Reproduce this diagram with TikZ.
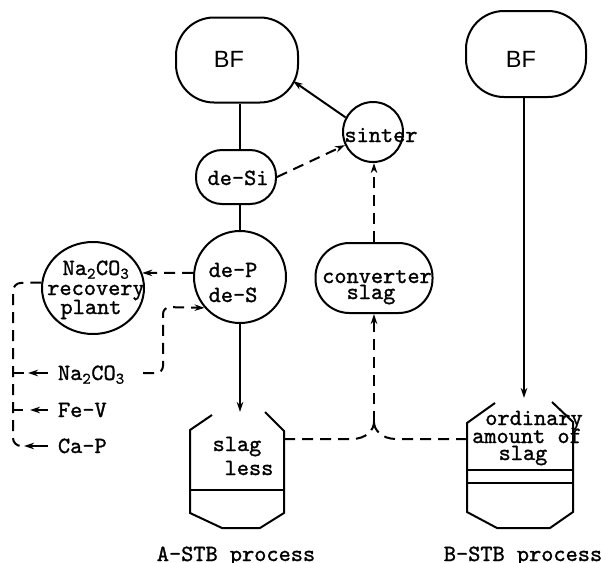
\documentclass[tikz,border=0pt]{standalone}
\usepackage{fontspec}
\setsansfont{Liberation Sans}
\newfontfamily\tw{lmmono10-regular.otf}[FakeBold=1.2]
\usetikzlibrary{arrows.meta,shapes.geometric,calc}
\begin{document}
\begin{tikzpicture}[x=1pt,y=-1pt,line width=2pt,
  txt/.style={font=\fontsize{23.2}{25}\tw,inner sep=0pt,anchor=base},
  bft/.style={font=\fontsize{23.5}{26}\sffamily,inner sep=0pt,anchor=base},
  dd/.style={dash pattern=on 11pt off 7pt},
  arr/.style={-{Stealth[length=10pt,width=6.5pt]}},
  shp/.style={draw,inner sep=0pt}]
\useasboundingbox (0,0) rectangle (606,563);

% ---- shapes
\node[shp,rounded corners=38pt,minimum width=122pt,minimum height=85pt] (BFa) at (237,60) {};
\node[bft] (BFaT) at (229,67) {BF};
\node[shp,rounded corners=38pt,minimum width=120pt,minimum height=86pt] (BFb) at (526,54) {};
\node[bft] (BFbT) at (521,67) {BF};
\node[shp,rounded corners=26pt,minimum width=80pt,minimum height=54pt] (deSi) at (236,177) {};
\node[txt] (deSiT) at (238,185) {de-Si};
\node[shp,circle,minimum size=60pt] (sinter) at (373,132) {};
\node[txt] (sinterT) at (381,142) {sinter};
\node[shp,circle,minimum size=92pt] (deP) at (240,277) {};
\node[txt] (dePT) at (233,277) {de-P};
\node[txt] (deST) at (233,302) {de-S};
\node[shp,ellipse,minimum width=102pt,minimum height=92pt] (plant) at (93,288) {};
\node[txt] (plT1) at (96,275) {Na\textsubscript{2}CO\textsubscript{3}};
\node[txt] (plT2) at (96,295) {recovery};
\node[txt] (plT3) at (91,314) {plant};
\node[shp,rounded corners=34pt,minimum width=117pt,minimum height=70pt] (conv) at (374,278) {};
\node[txt] (convT1) at (377,283) {converter};
\node[txt] (convT2) at (371,299) {slag};

% ---- vessels
\draw (212,415) -- (190,430) -- (190,513) -- (222,528) -- (260,528) -- (284,513) -- (284,431) -- (265,412);
\draw (190,490) -- (284,490);
\node[txt] (vAT1) at (237,451) {slag};
\node[txt] (vAT2) at (249,475) {less};
\node[txt] (vAL) at (236,561) {A-STB process};
\coordinate (Atop) at (240,412);
\coordinate (Aright) at (284,439);

\draw (495,403) -- (467,423) -- (467,512) -- (497,528) -- (550,528) -- (573,512) -- (573,422) -- (552,402);
\draw (467,470) -- (573,470);
\draw (467,483) -- (573,483);
\node[txt] (vBT1) at (534,425) {ordinary};
\node[txt] (vBT2) at (527,443) {amount of};
\node[txt] (vBT3) at (523,460) {slag};
\node[txt] (vBL) at (523,561) {B-STB process};
\coordinate (Btop) at (524,398);
\coordinate (Bleft) at (467,439);

% ---- left list
\node[txt,anchor=base west] (naL) at (57,380) {Na\textsubscript{2}CO\textsubscript{3}};
\node[txt,anchor=base west] (feL) at (57,417) {Fe-V};
\node[txt,anchor=base west] (caL) at (57,453) {Ca-P};

% ---- connectors
\coordinate (bfin) at ($(BFa.center)+(56,21)$);
\coordinate (merge) at (374,422);
\draw (deP.north |- BFa.south) -- (deP.north |- deSi.north);
\draw (deP.north |- deSi.south) -- (deP.north);
\draw[arr] (deP.south) -- (Atop);
\draw[arr] (BFb.south -| Btop) -- (Btop);
\draw[arr] (sinter.152) -- (bfin);
\draw[dd,arr] (deSi.east) -- (sinter);
\draw[dd,arr] (conv.north) -- (conv.north |- sinter.south);
\draw[dd,arr] (merge) -- (merge |- conv.south);
\draw[dd] (Aright) -- (352,439) .. controls (366,439) and (374,430) .. (merge);
\draw[dd] (Bleft) -- (396,439) .. controls (382,439) and (374,430) .. (merge);
\draw[dd,arr] (deP.175) -- (plant.17);
\coordinate (naS) at (143,373);
\draw[dd,arr,rounded corners=7pt] (naS) -- (163,373) -- (163,307) -- (deP.221);
\draw[dd,rounded corners=8pt] (plant.174) -- (13,283) -- (13,446) -- (24,446);
\draw[dd] (13,373) -- (25,373);
\draw[dd] (13,410) -- (23,410);
\draw[arr] ([xshift=-9pt,yshift=7pt]naL.base west) -- ++(-20,0);
\draw[arr] ([xshift=-9pt,yshift=7pt]feL.base west) -- ++(-18,0);
\draw[arr] ([xshift=-9pt,yshift=7pt]caL.base west) -- ++(-24,0);
\end{tikzpicture}
\end{document}
